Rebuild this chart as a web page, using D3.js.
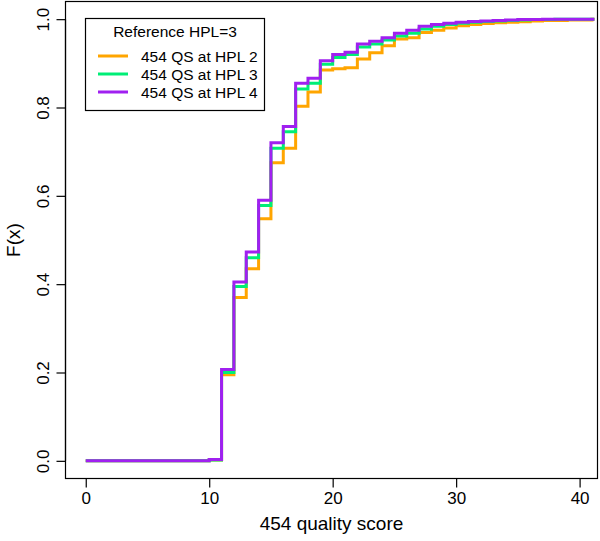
<!DOCTYPE html>
<html>
<head>
<meta charset="utf-8">
<script src="https://cdn.jsdelivr.net/npm/d3@7"></script>
<style>
  body { margin: 0; background: #fff; }
  svg text { font-family: "Liberation Sans", Arial, Helvetica, sans-serif; fill: #000; }
</style>
</head>
<body>
<svg id="chart" width="600" height="541"></svg>
<script>
// ---- data ----
const knots = [0, 10, 11, 12, 13, 14, 15, 16, 17, 18, 19, 20, 21, 22, 23, 24, 25, 26, 27, 28, 29, 30, 31, 32, 33, 34, 35, 36, 37, 38, 39, 40, 41];
const xEnd = 41.2;
const hpl2 = [0, 0.002, 0.195, 0.370, 0.435, 0.548, 0.675, 0.708, 0.803, 0.835, 0.885, 0.888, 0.890, 0.910, 0.924, 0.940, 0.955, 0.958, 0.970, 0.975, 0.980, 0.985, 0.988, 0.990, 0.992, 0.993, 0.994, 0.996, 0.997, 0.997, 0.998, 0.998, 1.0];
const hpl3 = [0, 0.002, 0.200, 0.395, 0.460, 0.578, 0.708, 0.745, 0.842, 0.855, 0.898, 0.913, 0.920, 0.937, 0.944, 0.953, 0.962, 0.968, 0.978, 0.984, 0.988, 0.991, 0.993, 0.995, 0.996, 0.997, 0.998, 0.999, 0.999, 1.0, 1.0, 1.0, 1.0];
const hpl4 = [0, 0.003, 0.207, 0.405, 0.473, 0.590, 0.720, 0.757, 0.855, 0.866, 0.906, 0.920, 0.925, 0.944, 0.950, 0.958, 0.968, 0.975, 0.984, 0.988, 0.991, 0.993, 0.995, 0.996, 0.997, 0.998, 0.999, 0.999, 1.0, 1.0, 1.0, 1.0, 1.0];
const seriesNames = ["454 QS at HPL 2", "454 QS at HPL 3", "454 QS at HPL 4"];
const seriesColors = ["#FFA500", "#00EE76", "#A020F0"];
const xTicks = [0, 10, 20, 30, 40];
const yTicks = [0, 0.2, 0.4, 0.6, 0.8, 1.0];
const legendTitle = "Reference HPL=3";
const xTitle = "454 quality score";
const yTitle = "F(x)";

// ---- layout ----
const svg = d3.select("#chart");
const pL = 65.5, pR = 597.5, pT = 1.5, pB = 478.5;
const x = d3.scaleLinear().domain([-1.64, 41.45]).range([pL, pR]);
const y = d3.scaleLinear().domain([-0.04, 1.04]).range([pB, pT]);

const allSeries = [hpl2, hpl3, hpl4];
const line = d3.line().x(d => x(d[0])).y(d => y(d[1])).curve(d3.curveStepAfter);

allSeries.forEach((vals, i) => {
  const pts = knots.map((k, j) => [k, vals[j]]);
  pts.push([xEnd, vals[vals.length - 1]]);
  svg.append("path")
    .attr("d", line(pts))
    .attr("fill", "none")
    .attr("stroke", seriesColors[i])
    .attr("stroke-width", 3)
    .attr("stroke-linejoin", "miter")
    .attr("stroke-linecap", "butt");
});

// frame
svg.append("rect")
  .attr("x", pL).attr("y", pT)
  .attr("width", pR - pL).attr("height", pB - pT)
  .attr("fill", "none").attr("stroke", "#000").attr("stroke-width", 1.2);

// x axis
const xAxis = d3.axisBottom(x).tickValues(xTicks).tickSize(9).tickPadding(4).tickFormat(d3.format("d"));
const gx = svg.append("g").attr("transform", `translate(0,${pB})`).call(xAxis);
gx.select(".domain").attr("d", `M${x(xTicks[0])},0H${x(xTicks[xTicks.length-1])}`).attr("stroke-width", 1.2);
gx.selectAll(".tick line").attr("stroke-width", 1.2);
gx.selectAll("text").attr("font-size", 17).attr("font-family", "Liberation Sans, Arial, sans-serif");

// y axis
const yAxis = d3.axisLeft(y).tickValues(yTicks).tickSize(9).tickPadding(6).tickFormat(d3.format(".1f"));
const gy = svg.append("g").attr("transform", `translate(${pL},0)`).call(yAxis);
gy.select(".domain").attr("d", `M0,${y(yTicks[0])}V${y(yTicks[yTicks.length-1])}`).attr("stroke-width", 1.2);
gy.selectAll(".tick line").attr("stroke-width", 1.2);
gy.selectAll(".tick text")
  .attr("font-size", 17).attr("font-family", "Liberation Sans, Arial, sans-serif")
  .attr("text-anchor", "middle").attr("dy", null)
  .attr("x", null)
  .attr("transform", "translate(-22,0) rotate(-90)")
  .attr("dominant-baseline", "central");

// titles
svg.append("text").attr("x", (pL + pR) / 2).attr("y", 530)
  .attr("text-anchor", "middle").attr("font-size", 19).text(xTitle);
svg.append("text").attr("transform", `translate(13,${(pT + pB) / 2}) rotate(-90)`)
  .attr("text-anchor", "middle").attr("dominant-baseline", "central").attr("font-size", 19).text(yTitle);

// legend
const lg = svg.append("g");
lg.append("rect").attr("x", 85.5).attr("y", 18.5).attr("width", 179).attr("height", 92)
  .attr("fill", "#fff").attr("stroke", "#000").attr("stroke-width", 1.2);
lg.append("text").attr("x", 175).attr("y", 37).attr("text-anchor", "middle").attr("font-size", 15.5).text(legendTitle);
seriesNames.forEach((name, i) => {
  const yy = 56 + i * 18;
  lg.append("line").attr("x1", 98).attr("x2", 128).attr("y1", yy).attr("y2", yy)
    .attr("stroke", seriesColors[i]).attr("stroke-width", 3);
  lg.append("text").attr("x", 141).attr("y", yy).attr("dominant-baseline", "central")
    .attr("font-size", 15.5).text(name);
});
</script>
</body>
</html>
